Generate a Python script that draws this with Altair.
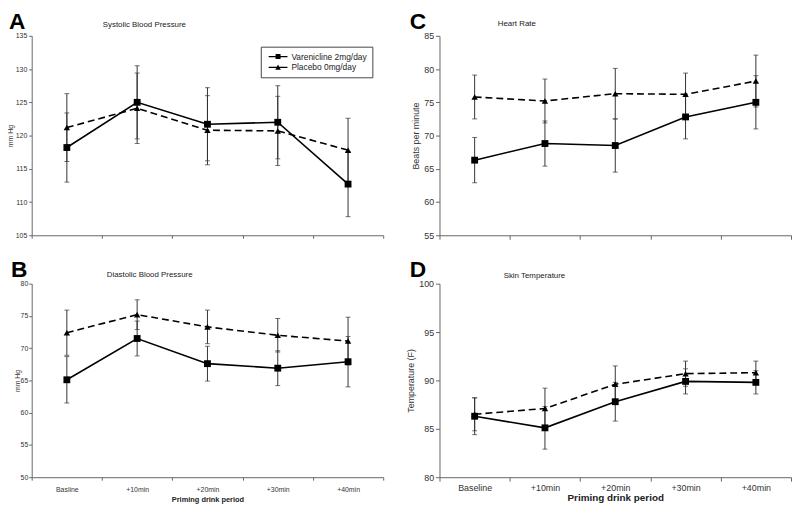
import altair as alt
import pandas as pd

FONT = "Liberation Sans"
groups = ["Varenicline 2mg/day", "Placebo 0mg/day"]
cats = ["Baseline", "+10min", "+20min", "+30min", "+40min"]
cats_b = ["Basline", "+10min", "+20min", "+30min", "+40min"]

# Panel A: systolic blood pressure
a_var = [118.2, 125.0, 121.7, 122.0, 112.7]
a_var_err = [5.2, 5.5, 5.5, 5.5, 4.9]
a_pla = [121.2, 124.1, 120.8, 120.7, 117.8]
a_pla_err = [5.1, 5.3, 5.2, 5.2, 4.8]

# Panel B: diastolic blood pressure
b_var = [65.1, 71.5, 67.6, 66.9, 67.9]
b_var_err = [3.6, 2.7, 2.7, 2.7, 3.9]
b_pla = [72.4, 75.2, 73.3, 72.0, 71.1]
b_pla_err = [3.5, 2.3, 2.6, 2.6, 3.7]

# Panel C: heart rate
c_var = [66.3, 68.8, 68.5, 72.8, 75.0]
c_var_err = [3.4, 3.4, 4.0, 3.3, 4.0]
c_pla = [75.8, 75.2, 76.3, 76.2, 78.2]
c_pla_err = [3.3, 3.3, 3.8, 3.2, 3.9]

# Panel D: skin temperature
d_var = [86.3, 85.1, 87.8, 89.9, 89.8]
d_var_err = [1.9, 2.2, 2.0, 1.3, 1.2]
d_pla = [86.5, 87.1, 89.6, 90.7, 90.8]
d_pla_err = [1.7, 2.1, 1.9, 1.3, 1.2]

# legend symbols: a short line with the marker on it (filled shapes only)
SQ_PATH = "M-0.4,-0.13H3.4V0.13H-0.4ZM1,-0.5H2V0.5H1Z"
TRI_PATH = "M-0.4,-0.13H3.4V0.13H-0.4ZM1.5,-0.6L2.06,0.45H0.94Z"


def make_df(cl, var, var_err, pla, pla_err):
    rows = []
    for g, vals, errs in [(groups[0], var, var_err), (groups[1], pla, pla_err)]:
        for c, v, e in zip(cl, vals, errs):
            rows.append({"period": c, "group": g, "mean": v,
                         "lo": round(v - e, 2), "hi": round(v + e, 2)})
    return pd.DataFrame(rows)


def panel(letter, letter_x, sub, sub_x, sub_y, df, cl, ymin, ymax, ytitle,
          show_x, w, h, fs_tick, fs_title, fs_xtitle, tick_len, y_tpad,
          y_lpad, x_lpad, x_tpad, legend=False):
    axis_col = "#666666"
    xenc = alt.X(
        "period:N",
        scale=alt.Scale(type="band", domain=cl, paddingInner=0, paddingOuter=0),
        bandPosition=0.5,
        axis=alt.Axis(
            title="Priming drink period" if show_x else None,
            labels=show_x, ticks=True, tickBand="extent", tickSize=tick_len,
            labelAngle=0, labelFontSize=fs_tick, labelFont=FONT,
            labelColor="#333333", titleFont=FONT, titleFontSize=fs_xtitle,
            titleFontWeight="bold", titleColor="#222222", titlePadding=x_tpad,
            labelPadding=x_lpad, domainColor=axis_col, tickColor=axis_col,
            grid=False,
        ),
    )
    yscale = alt.Scale(domain=[ymin, ymax], nice=False, zero=False)
    yaxis = alt.Axis(
        title=ytitle, values=list(range(ymin, ymax + 1, 5)), tickSize=tick_len,
        labelFontSize=fs_tick, labelFont=FONT, labelColor="#333333",
        titleFont=FONT, titleFontSize=fs_title, titleFontWeight="normal",
        titleColor="#333333", titlePadding=y_tpad, labelPadding=y_lpad,
        domainColor=axis_col, tickColor=axis_col, grid=False,
        labelOverlap=False,
    )

    def yq(field):
        return alt.Y(field, scale=yscale, axis=yaxis)

    base = alt.Chart(df)
    rules = base.mark_rule(color="#333333", strokeWidth=1).encode(
        x=xenc, y=yq("lo:Q"), y2="hi:Q")
    cap_lo = base.mark_tick(color="#333333", size=5, thickness=1).encode(
        x=xenc, y=yq("lo:Q"))
    cap_hi = base.mark_tick(color="#333333", size=5, thickness=1).encode(
        x=xenc, y=yq("hi:Q"))
    line_v = base.transform_filter(alt.datum.group == groups[0]).mark_line(
        color="black", strokeWidth=1.6).encode(x=xenc, y=yq("mean:Q"))
    line_p = base.transform_filter(alt.datum.group == groups[1]).mark_line(
        color="black", strokeWidth=1.6, strokeDash=[7, 4]).encode(
        x=xenc, y=yq("mean:Q"))
    pt_v = base.transform_filter(alt.datum.group == groups[0]).mark_point(
        shape="square", filled=True, color="black", size=48, opacity=1).encode(
        x=xenc, y=yq("mean:Q"))
    pt_p = base.transform_filter(alt.datum.group == groups[1]).mark_point(
        shape="triangle-up", filled=True, color="black", size=42,
        opacity=1).encode(x=xenc, y=yq("mean:Q"))
    labels = alt.Chart(alt.Data(values=[{"t": letter}])).mark_text(
        align="left", baseline="top", font=FONT, fontSize=23,
        fontWeight="bold", color="black"
    ).encode(x=alt.value(letter_x), y=alt.value(-25), text="t:N")
    subtitle = alt.Chart(alt.Data(values=[{"t": sub}])).mark_text(
        align="left", baseline="middle", font=FONT, fontSize=8,
        color="#222222"
    ).encode(x=alt.value(sub_x), y=alt.value(sub_y), text="t:N")
    layers = [rules, cap_lo, cap_hi, line_v, line_p, pt_v, pt_p, labels,
              subtitle]
    if legend:
        leg = base.transform_filter("false").mark_point(
            filled=True, color="black", opacity=1, size=100).encode(
            x=xenc, y=yq("mean:Q"),
            shape=alt.Shape(
                "group:N",
                scale=alt.Scale(domain=groups, range=[SQ_PATH, TRI_PATH]),
                legend=alt.Legend(
                    title=None, orient="none", legendX=232, legendY=11,
                    strokeColor="#444444", fillColor="white",
                    padding=5, rowPadding=1, labelFont=FONT,
                    labelFontSize=8.5, labelColor="#222222",
                    symbolSize=100, symbolFillColor="black",
                    symbolStrokeWidth=0, labelOffset=16, offset=0)))
        layers.append(leg)
    return alt.layer(*layers).properties(width=w, height=h)


df_a = make_df(cats, a_var, a_var_err, a_pla, a_pla_err)
df_b = make_df(cats_b, b_var, b_var_err, b_pla, b_pla_err)
df_c = make_df(cats, c_var, c_var_err, c_pla, c_pla_err)
df_d = make_df(cats, d_var, d_var_err, d_pla, d_pla_err)

pa = panel("A", -23, "Systolic Blood Pressure", 72, -11, df_a, cats, 105, 135,
           "mm Hg", False, 356, 202, 7, 7, 8, 3, 2, 2, 3, 2, legend=True)
pb = panel("B", -21, "Diastolic Blood Pressure", 76, -9, df_b, cats_b, 50, 80,
           "mm Hg", True, 356, 196, 7, 7, 7.5, 3, 0, 1, 5, 4)
pc = panel("C", -30, "Heart Rate", 59, -12, df_c, cats, 55, 85,
           "Beats per minute", False, 356, 202, 9, 9, 10, 4, 3, 2, 3, 2)
pd_ = panel("D", -30, "Skin Temperature", 65, -8, df_d, cats, 80, 100,
            "Temperature (F)", True, 356, 196, 9, 9, 10, 4, 3, 2, 2.5, 0)

row1 = alt.hconcat(pa, pc, spacing=26).resolve_scale(shape="independent")
row2 = alt.hconcat(pb, pd_, spacing=22).resolve_scale(shape="independent")
chart = alt.vconcat(row1, row2, spacing=19).resolve_scale(
    shape="independent").properties(
    padding={"left": -2, "top": 0, "right": 0, "bottom": 0}
).configure_view(stroke=None)

chart.save("out.html", embed_options={"renderer": "svg", "actions": False})
